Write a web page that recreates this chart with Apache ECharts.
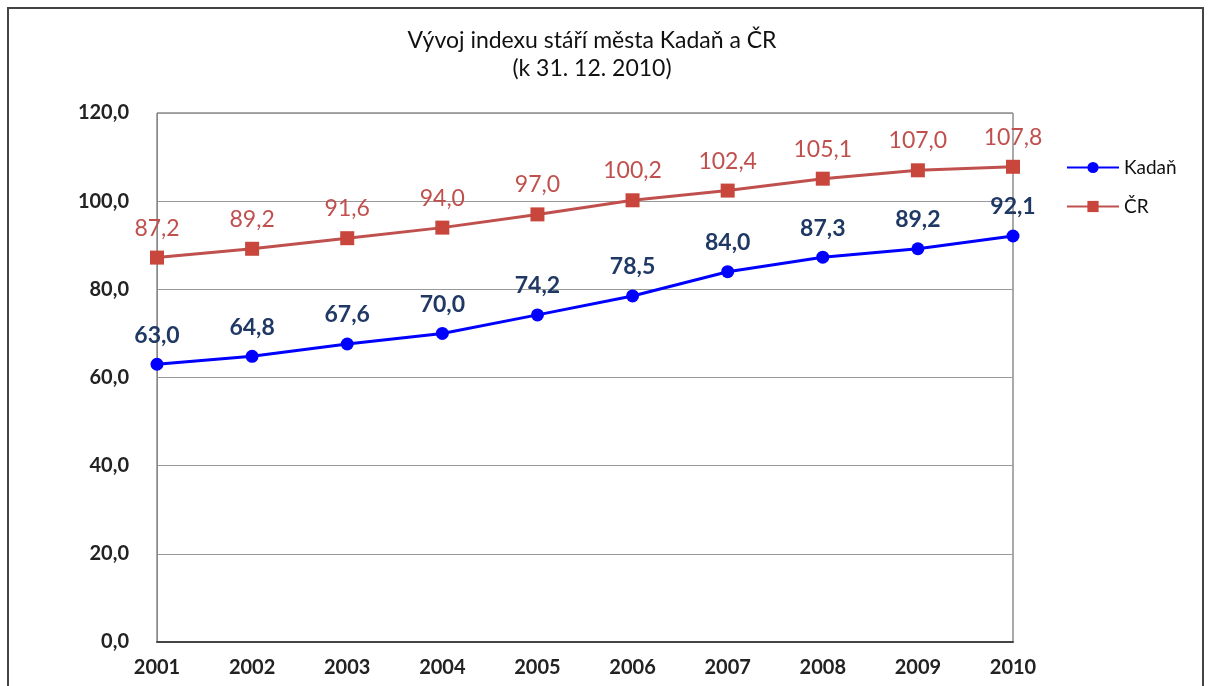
<!DOCTYPE html>
<html>
<head>
<meta charset="utf-8">
<script src="https://cdn.jsdelivr.net/npm/echarts@6/dist/echarts.min.js"></script>
<style>
  html, body { margin: 0; padding: 0; background: #fff; }
  #main { width: 1211px; height: 686px; }
</style>
</head>
<body>
<div id="main"></div>
<script>
var years = ['2001', '2002', '2003', '2004', '2005', '2006', '2007', '2008', '2009', '2010'];
var kadan = [63.0, 64.8, 67.6, 70.0, 74.2, 78.5, 84.0, 87.3, 89.2, 92.1];
var cr = [87.2, 89.2, 91.6, 94.0, 97.0, 100.2, 102.4, 105.1, 107.0, 107.8];

function fmt(v) {
    return Number(v).toFixed(1).replace('.', ',');
}

var font = 'Lato, "Open Sans", sans-serif';

echarts.init(document.getElementById('main')).setOption({
    backgroundColor: '#fff',
    textStyle: { fontFamily: font },
    graphic: [{
        type: 'rect',
        shape: { x: 8, y: 8, width: 1195, height: 700 },
        style: { fill: 'none', stroke: '#444', lineWidth: 2 },
        silent: true
    }],
    title: {
        text: 'Vývoj indexu stáří města Kadaň a ČR\n(k 31. 12. 2010)',
        left: 587,
        textAlign: 'center',
        top: 22,
        textStyle: {
            fontFamily: font,
            fontSize: 23,
            fontWeight: 'normal',
            color: '#111',
            lineHeight: 28
        }
    },
    legend: {
        orient: 'vertical',
        left: 1061,
        top: 153,
        itemWidth: 52,
        itemHeight: 14,
        itemGap: 20,
        textStyle: { fontFamily: font, fontSize: 19, color: '#111' },
        data: ['Kadaň', 'ČR']
    },
    grid: {
        left: 157,
        right: 198,
        top: 113,
        bottom: 44,
        show: true,
        borderColor: '#555',
        borderWidth: 1
    },
    xAxis: {
        type: 'category',
        data: years,
        boundaryGap: false,
        axisLine: { lineStyle: { color: '#444', width: 2 } },
        axisTick: { show: false },
        axisLabel: { fontFamily: font, fontSize: 20, fontWeight: 'bold', color: '#222', margin: 16 }
    },
    yAxis: {
        type: 'value',
        min: 0,
        max: 120,
        interval: 20,
        axisLine: { show: true, lineStyle: { color: '#888' } },
        axisTick: { show: false },
        splitLine: { lineStyle: { color: '#999' } },
        axisLabel: {
            fontFamily: font, fontSize: 20, fontWeight: 'bold', color: '#222', margin: 28,
            formatter: fmt
        }
    },
    series: [{
        name: 'Kadaň',
        type: 'line',
        data: kadan,
        symbol: 'circle',
        symbolSize: 13,
        lineStyle: { color: '#0000ff', width: 3 },
        itemStyle: { color: '#0000ff' },
        label: {
            show: true,
            position: 'top',
            distance: 11,
            formatter: function(p) { return fmt(p.value); },
            fontFamily: font,
            fontSize: 23,
            fontWeight: 'bold',
            color: '#1f3864'
        }
    }, {
        name: 'ČR',
        type: 'line',
        data: cr,
        symbol: 'rect',
        symbolSize: 14,
        lineStyle: { color: '#c0504d', width: 3 },
        itemStyle: { color: '#c8463c' },
        label: {
            show: true,
            position: 'top',
            distance: 11,
            formatter: function(p) { return fmt(p.value); },
            fontFamily: font,
            fontSize: 23,
            color: '#c0504d'
        }
    }]
});
</script>
</body>
</html>
